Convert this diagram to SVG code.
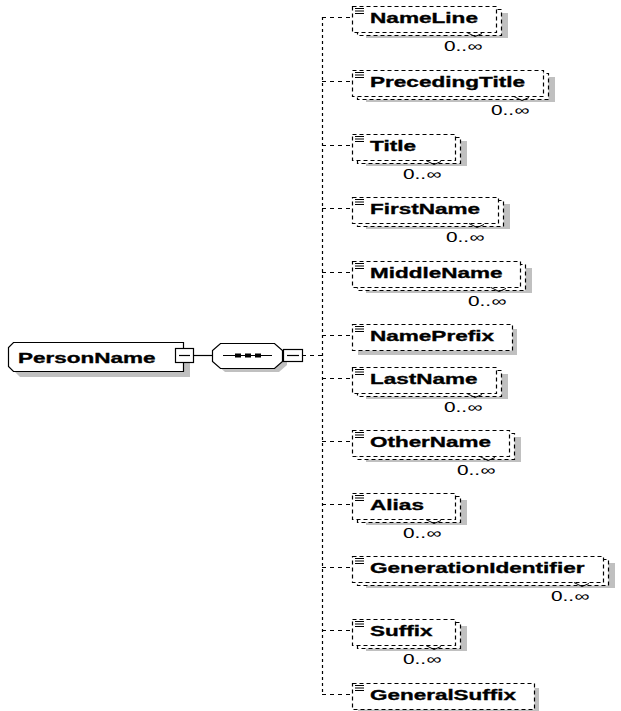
<svg xmlns="http://www.w3.org/2000/svg" width="621" height="711" viewBox="0 0 621 711">
  <style>
    .bg { fill: #ffffff; }
    .shadow { fill: #c0c0c0; stroke: none; }
    .box { fill: #ffffff; stroke: #000000; stroke-width: 1.2; stroke-dasharray: 4 3; }
    .solid { fill: #ffffff; stroke: #000000; stroke-width: 1.2; }
    .icon { stroke: #000000; stroke-width: 1; fill: none; }
    .notch { stroke: #000000; stroke-width: 1; fill: none; }
    .lbl { font-family: "Liberation Sans", Arial, sans-serif; font-weight: bold; font-size: 15.5px; fill: #000000; stroke: #000000; stroke-width: 0.35; }
    .occ { font-family: "Liberation Sans", Arial, sans-serif; font-size: 14px; fill: #000000; }
    .line { stroke: #000000; stroke-width: 1.2; fill: none; }
    .dash { stroke: #000000; stroke-width: 1.2; fill: none; stroke-dasharray: 4 4; }
    .dot { stroke: #000000; stroke-width: 1.2; fill: none; stroke-dasharray: 3 3; }
  </style>
  <rect class="bg" x="0" y="0" width="621" height="711"/>

  <!-- connectors -->
  <g id="connectors">
    <path class="line" d="M193 355.5H212"/>
    <path class="dash" d="M302 355.5H322"/>
    <path class="dot" d="M322.5 17V694"/>
    <path class="dash" d="M322 17.5H352M322 81.5H352M322 145.5H352M322 208.5H352M322 272.5H352M322 335.5H352M322 378.5H352M322 441.5H352M322 504.5H352M322 567.5H352M322 630.5H352M322 694.5H352"/>
  </g>

  <!-- root element -->
  <g id="PersonName">
    <polygon class="shadow" points="20,348 190,348 190,377 20,377 15,372 15,353"/>
    <polygon class="solid" points="13.5,342.5 183.5,342.5 183.5,371.5 13.5,371.5 8.5,366.5 8.5,347.5"/>
    <text class="lbl" x="18" y="363" textLength="137.5" lengthAdjust="spacingAndGlyphs">PersonName</text>
    <rect class="solid" x="175.5" y="348.5" width="18" height="14"/>
    <path class="line" d="M179 355.5H190"/>
  </g>

  <!-- sequence compositor -->
  <g id="sequence">
    <polygon class="shadow" points="225,347 279,347 287,354 287,365 279,372 225,372 217,365 217,354"/>
    <polygon class="solid" points="220.5,343.5 274.5,343.5 282.5,350.5 282.5,361.5 274.5,368.5 220.5,368.5 212.5,361.5 212.5,350.5"/>
    <path class="line" d="M223 355.5H272"/>
    <rect x="235" y="353.5" width="6" height="4" fill="#000"/>
    <rect x="245" y="353.5" width="6" height="4" fill="#000"/>
    <rect x="255" y="353.5" width="6" height="4" fill="#000"/>
    <rect class="solid" x="283.5" y="349.5" width="19" height="12"/>
    <path class="line" d="M287 355.5H299"/>
  </g>

  <!-- child elements -->
  <g id="NameLine">
    <rect class="shadow" x="366" y="13" width="142" height="25"/>
    <rect class="box" x="357.5" y="9.5" width="144" height="26"/>
    <rect class="box" x="352.5" y="6.5" width="144" height="26"/>
    <path class="icon" d="M355 8.5h9M355 11h9M355 13.5h9"/>
    <text class="lbl" x="370" y="23" textLength="108" lengthAdjust="spacingAndGlyphs">NameLine</text>
    <path class="notch" d="M467 32.5l8 4l7-3"/>
    <text class="occ" x="444" y="51" textLength="38" lengthAdjust="spacingAndGlyphs">0..∞</text>
  </g>

  <g id="PrecedingTitle">
    <rect class="shadow" x="366" y="77" width="189" height="25"/>
    <rect class="box" x="357.5" y="73.5" width="191" height="26"/>
    <rect class="box" x="352.5" y="70.5" width="191" height="26"/>
    <path class="icon" d="M355 72.5h9M355 75h9M355 77.5h9"/>
    <text class="lbl" x="370" y="87" textLength="155" lengthAdjust="spacingAndGlyphs">PrecedingTitle</text>
    <path class="notch" d="M514 96.5l8 4l7-3"/>
    <text class="occ" x="491" y="115" textLength="38" lengthAdjust="spacingAndGlyphs">0..∞</text>
  </g>

  <g id="Title">
    <rect class="shadow" x="366" y="141" width="101" height="25"/>
    <rect class="box" x="357.5" y="137.5" width="103" height="26"/>
    <rect class="box" x="352.5" y="134.5" width="103" height="26"/>
    <path class="icon" d="M355 136.5h9M355 139h9M355 141.5h9"/>
    <text class="lbl" x="370" y="151" textLength="46" lengthAdjust="spacingAndGlyphs">Title</text>
    <path class="notch" d="M426 160.5l8 4l7-3"/>
    <text class="occ" x="403" y="179" textLength="38" lengthAdjust="spacingAndGlyphs">0..∞</text>
  </g>

  <g id="FirstName">
    <rect class="shadow" x="366" y="204" width="144" height="25"/>
    <rect class="box" x="357.5" y="200.5" width="146" height="26"/>
    <rect class="box" x="352.5" y="197.5" width="146" height="26"/>
    <path class="icon" d="M355 199.5h9M355 202h9M355 204.5h9"/>
    <text class="lbl" x="370" y="214" textLength="110" lengthAdjust="spacingAndGlyphs">FirstName</text>
    <path class="notch" d="M469 223.5l8 4l7-3"/>
    <text class="occ" x="446" y="242" textLength="38" lengthAdjust="spacingAndGlyphs">0..∞</text>
  </g>

  <g id="MiddleName">
    <rect class="shadow" x="366" y="268" width="166" height="25"/>
    <rect class="box" x="357.5" y="264.5" width="168" height="26"/>
    <rect class="box" x="352.5" y="261.5" width="168" height="26"/>
    <path class="icon" d="M355 263.5h9M355 266h9M355 268.5h9"/>
    <text class="lbl" x="370" y="278" textLength="132.5" lengthAdjust="spacingAndGlyphs">MiddleName</text>
    <path class="notch" d="M491 287.5l8 4l7-3"/>
    <text class="occ" x="468" y="306" textLength="38" lengthAdjust="spacingAndGlyphs">0..∞</text>
  </g>

  <g id="NamePrefix">
    <rect class="shadow" x="358" y="329" width="159" height="26"/>
    <rect class="box" x="352.5" y="324.5" width="160" height="26"/>
    <path class="icon" d="M355 326.5h9M355 329h9M355 331.5h9"/>
    <text class="lbl" x="370" y="341" textLength="124" lengthAdjust="spacingAndGlyphs">NamePrefix</text>
  </g>

  <g id="LastName">
    <rect class="shadow" x="366" y="374" width="142" height="25"/>
    <rect class="box" x="357.5" y="370.5" width="144" height="26"/>
    <rect class="box" x="352.5" y="367.5" width="144" height="26"/>
    <path class="icon" d="M355 369.5h9M355 372h9M355 374.5h9"/>
    <text class="lbl" x="370" y="384" textLength="107.5" lengthAdjust="spacingAndGlyphs">LastName</text>
    <path class="notch" d="M467 393.5l8 4l7-3"/>
    <text class="occ" x="444" y="412" textLength="38" lengthAdjust="spacingAndGlyphs">0..∞</text>
  </g>

  <g id="OtherName">
    <rect class="shadow" x="366" y="437" width="155" height="25"/>
    <rect class="box" x="357.5" y="433.5" width="157" height="26"/>
    <rect class="box" x="352.5" y="430.5" width="157" height="26"/>
    <path class="icon" d="M355 432.5h9M355 435h9M355 437.5h9"/>
    <text class="lbl" x="370" y="447" textLength="121" lengthAdjust="spacingAndGlyphs">OtherName</text>
    <path class="notch" d="M480 456.5l8 4l7-3"/>
    <text class="occ" x="457" y="475" textLength="38" lengthAdjust="spacingAndGlyphs">0..∞</text>
  </g>

  <g id="Alias">
    <rect class="shadow" x="366" y="500" width="101" height="25"/>
    <rect class="box" x="357.5" y="496.5" width="103" height="26"/>
    <rect class="box" x="352.5" y="493.5" width="103" height="26"/>
    <path class="icon" d="M355 495.5h9M355 498h9M355 500.5h9"/>
    <text class="lbl" x="370" y="510" textLength="54" lengthAdjust="spacingAndGlyphs">Alias</text>
    <path class="notch" d="M426 519.5l8 4l7-3"/>
    <text class="occ" x="403" y="538" textLength="38" lengthAdjust="spacingAndGlyphs">0..∞</text>
  </g>

  <g id="GenerationIdentifier">
    <rect class="shadow" x="366" y="563" width="249" height="25"/>
    <rect class="box" x="357.5" y="559.5" width="251" height="26"/>
    <rect class="box" x="352.5" y="556.5" width="251" height="26"/>
    <path class="icon" d="M355 558.5h9M355 561h9M355 563.5h9"/>
    <text class="lbl" x="370" y="573" textLength="214.5" lengthAdjust="spacingAndGlyphs">GenerationIdentifier</text>
    <path class="notch" d="M574 582.5l8 4l7-3"/>
    <text class="occ" x="551" y="601" textLength="38" lengthAdjust="spacingAndGlyphs">0..∞</text>
  </g>

  <g id="Suffix">
    <rect class="shadow" x="366" y="626" width="101" height="25"/>
    <rect class="box" x="357.5" y="622.5" width="103" height="26"/>
    <rect class="box" x="352.5" y="619.5" width="103" height="26"/>
    <path class="icon" d="M355 621.5h9M355 624h9M355 626.5h9"/>
    <text class="lbl" x="370" y="636" textLength="62.5" lengthAdjust="spacingAndGlyphs">Suffix</text>
    <path class="notch" d="M426 645.5l8 4l7-3"/>
    <text class="occ" x="403" y="664" textLength="38" lengthAdjust="spacingAndGlyphs">0..∞</text>
  </g>

  <g id="GeneralSuffix">
    <rect class="shadow" x="358" y="688" width="181" height="26"/>
    <rect class="box" x="352.5" y="683.5" width="182" height="26"/>
    <path class="icon" d="M355 685.5h9M355 688h9M355 690.5h9"/>
    <text class="lbl" x="370" y="700" textLength="146" lengthAdjust="spacingAndGlyphs">GeneralSuffix</text>
  </g>
</svg>
